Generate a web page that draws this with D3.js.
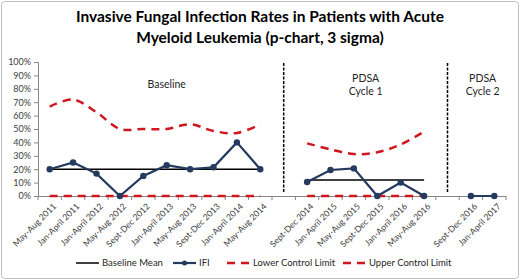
<!DOCTYPE html>
<html>
<head>
<meta charset="utf-8">
<script src="https://cdn.jsdelivr.net/npm/d3@7"></script>
<style>
  body { margin: 0; background: #fff; }
  svg { font-family: Lato, "Open Sans", sans-serif; }
</style>
</head>
<body>
<div id="chart"></div>
<script>
// categories (empty strings are the gaps between phases)
var categories = ["May-Aug 2011", "Jan-April 2011", "Jan-April 2012", "May-Aug 2012", "Sept-Dec 2012",
  "Jan-April 2013", "May-Aug 2013", "Sept-Dec 2013", "Jan-April 2014", "May-Aug 2014", "",
  "Sept-Dec 2014", "Jan-April 2015", "May-Aug 2015", "Sept-Dec 2015", "Jan-April 2016", "May-Aug 2016", "",
  "Sept-Dec 2016", "Jan-April 2017"];

// values in percent, null = no point
var ifi  = [20, 25, 16.7, 0, 15, 23, 20, 21.4, 40, 20, null, 10.5, 19.4, 20.6, 0, 10, 0, null, 0, 0];
var mean = [20, 20, 20, 20, 20, 20, 20, 20, 20, 20, null, 12, 12, 12, 12, 12, 12, null, null, null];
var lcl  = [0, 0, 0, 0, 0, 0, 0, 0, 0, 0, null, 0, 0, 0, 0, 0, 0, null, null, null];
var ucl  = [66.7, 72, 62.5, 50, 50, 50, 53.5, 48.5, 47, 53.5, null, 39.3, 34.8, 31.3, 32.6, 38.5, 48, null, null, null];

var yTicks = [0, 10, 20, 30, 40, 50, 60, 70, 80, 90, 100];
var phases = [{lines: ["Baseline"], at: 5.5}, {lines: ["PDSA", "Cycle 1"], at: 14}, {lines: ["PDSA", "Cycle 2"], at: 19}];
var dividers = [10, 17];

var W = 520, H = 280;
var margin = {top: 62, right: 14, bottom: 84, left: 38},
    width = W - margin.left - margin.right,
    height = H - margin.top - margin.bottom;

var root = d3.select("#chart").append("svg")
    .attr("width", W)
    .attr("height", H);

// chart border
root.append("rect")
    .attr("x", 1.5).attr("y", 1.5)
    .attr("width", W - 3).attr("height", H - 3)
    .attr("rx", 3)
    .attr("fill", "#fff")
    .attr("stroke", "#bfbfbf");

// title
root.append("text")
    .attr("x", W / 2)
    .attr("text-anchor", "middle")
    .attr("font-weight", "bold")
    .attr("font-size", 15.5)
    .attr("fill", "#000")
    .selectAll("tspan")
    .data(["Invasive Fungal Infection Rates in Patients with Acute", "Myeloid Leukemia (p-chart, 3 sigma)"])
    .enter().append("tspan")
    .attr("x", W / 2)
    .attr("y", function(d, i) { return 22 + i * 21; })
    .text(function(d) { return d; });

var svg = root.append("g")
    .attr("transform", "translate(" + margin.left + "," + margin.top + ")");

var x = d3.scaleBand()
    .domain(d3.range(categories.length))
    .range([0, width]);

var y = d3.scaleLinear()
    .domain([0, 100])
    .range([height, 0]);

function cx(i) { return x(i) + x.bandwidth() / 2; }

// Y axis
var yAxis = svg.append("g")
    .call(d3.axisLeft(y).tickValues(yTicks).tickSize(4).tickFormat(function(d) { return d + "%"; }));
yAxis.select(".domain").attr("stroke", "#868686");
yAxis.selectAll(".tick line").attr("stroke", "#868686");
yAxis.selectAll("text").attr("font-size", 9).attr("fill", "#404040").attr("font-family", "Lato, sans-serif");

// X axis: labels at band centers, ticks at band boundaries
var xAxis = svg.append("g")
    .attr("transform", "translate(0," + height + ")")
    .call(d3.axisBottom(x).tickSize(0).tickFormat(function(i) { return categories[i]; }));
xAxis.select(".domain").attr("stroke", "#868686");
xAxis.selectAll("text")
    .attr("font-size", 8.6)
    .attr("fill", "#404040")
    .attr("font-family", "Lato, sans-serif")
    .attr("dy", null)
    .attr("y", 0)
    .attr("transform", "translate(7,11)rotate(-45)")
    .style("text-anchor", "end");
svg.append("g")
    .selectAll("line")
    .data(d3.range(categories.length + 1))
    .enter().append("line")
    .attr("x1", function(i) { return i * x.step(); })
    .attr("x2", function(i) { return i * x.step(); })
    .attr("y1", height)
    .attr("y2", height + 4)
    .attr("stroke", "#868686");

// phase dividers
svg.selectAll(".divider")
    .data(dividers)
    .enter().append("line")
    .attr("class", "divider")
    .attr("x1", function(i) { return cx(i); })
    .attr("x2", function(i) { return cx(i); })
    .attr("y1", y(100) + 1)
    .attr("y2", height - 4)
    .attr("stroke", "#000")
    .attr("stroke-width", 1.5)
    .attr("stroke-dasharray", "3,1.5");

// phase labels
svg.selectAll(".phase")
    .data(phases)
    .enter().append("text")
    .attr("class", "phase")
    .attr("text-anchor", "middle")
    .attr("font-size", 10.5)
    .attr("fill", "#262626")
    .each(function(p) {
      var t = d3.select(this);
      var px = p.at * x.step();
      t.selectAll("tspan").data(p.lines).enter().append("tspan")
        .attr("x", px)
        .attr("y", function(d, i) { return (p.lines.length === 1 ? 26 : 20) + i * 13; })
        .text(function(d) { return d; });
    });

var line = d3.line()
    .defined(function(d) { return d != null; })
    .x(function(d, i) { return cx(i); })
    .y(function(d) { return y(d); });

var smooth = d3.line()
    .defined(function(d) { return d != null; })
    .x(function(d, i) { return cx(i); })
    .y(function(d) { return y(d); })
    .curve(d3.curveCatmullRom.alpha(0.5));

var red = "#d0161e";

// lower control limit
svg.append("path").datum(lcl)
    .attr("d", smooth).attr("fill", "none")
    .attr("stroke", red).attr("stroke-width", 2.5).attr("stroke-dasharray", "8,6");

// upper control limit
svg.append("path").datum(ucl)
    .attr("d", smooth).attr("fill", "none")
    .attr("stroke", red).attr("stroke-width", 2.5).attr("stroke-dasharray", "8,6");

// mean
svg.append("path").datum(mean)
    .attr("d", line).attr("fill", "none")
    .attr("stroke", "#000").attr("stroke-width", 1.5);

// IFI
var navy = "#243a5e";
svg.append("path").datum(ifi)
    .attr("d", line).attr("fill", "none")
    .attr("stroke", navy).attr("stroke-width", 2.2);
svg.append("g").selectAll("circle")
    .data(ifi.map(function(v, i) { return {v: v, i: i}; }).filter(function(d) { return d.v != null; }))
    .enter().append("circle")
    .attr("cx", function(d) { return cx(d.i); })
    .attr("cy", function(d) { return y(d.v); })
    .attr("r", 3.2)
    .attr("fill", navy);

// legend
var legend = [
  {name: "Baseline Mean", x: 76, color: "#000", dash: null, w: 1.5, marker: false},
  {name: "IFI", x: 173, color: navy, dash: null, w: 2.2, marker: true},
  {name: "Lower Control Limit", x: 227, color: red, dash: "8,6", w: 2.5, marker: false},
  {name: "Upper Control Limit", x: 343, color: red, dash: "8,6", w: 2.5, marker: false}
];
var lg = root.append("g").selectAll("g")
    .data(legend)
    .enter().append("g")
    .attr("transform", function(d) { return "translate(" + d.x + ",263)"; });
lg.append("line")
    .attr("x1", 0).attr("x2", 23)
    .attr("stroke", function(d) { return d.color; })
    .attr("stroke-width", function(d) { return d.w; })
    .attr("stroke-dasharray", function(d) { return d.dash; });
lg.filter(function(d) { return d.marker; }).append("circle")
    .attr("cx", 11.5).attr("r", 2.5).attr("fill", navy);
lg.append("text")
    .attr("x", 26)
    .attr("dy", "0.35em")
    .attr("font-size", 9.5)
    .attr("fill", "#262626")
    .text(function(d) { return d.name; });
</script>
</body>
</html>
